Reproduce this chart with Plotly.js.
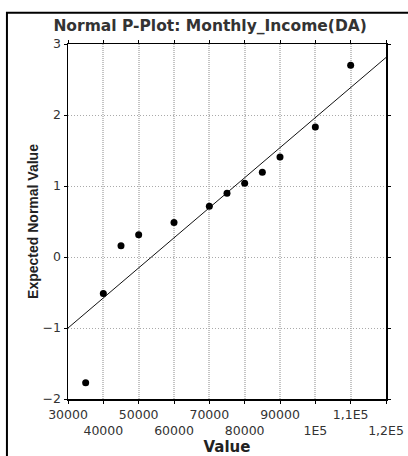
<!DOCTYPE html>
<html>
<head>
<meta charset="utf-8">
<script src="https://cdn.plot.ly/plotly-3.0.1.min.js"></script>
<style>
html,body{margin:0;padding:0;background:#fff;}
#chart{width:408px;height:456px;}
</style>
</head>
<body>
<div id="chart"></div>
<script>
// Observed values (Monthly_Income) and expected normal values
const incomeValues = [35000, 40000, 45000, 50000, 60000, 70000, 75000, 80000, 85000, 90000, 100000, 110000];
const expectedNormal = [-1.77, -0.515, 0.16, 0.315, 0.485, 0.714, 0.897, 1.038, 1.193, 1.408, 1.83, 2.70];
// Reference line endpoints
const lineX = [30000, 120000];
const lineY = [-1, 2.81];
// Axis ticks
const xTickVals = [30000, 40000, 50000, 60000, 70000, 80000, 90000, 100000, 110000, 120000];
const xTickText = ['30000', '<br>40000', '50000', '<br>60000', '70000', '<br>80000', '90000', '<br>1E5', '1,1E5', '<br>1,2E5'];
const yTickVals = [-2, -1, 0, 1, 2, 3];

const FONT = 'DejaVu Sans, Verdana, sans-serif';

const traces = [
  {
    x: lineX, y: lineY, mode: 'lines', type: 'scatter',
    line: {color: '#111', width: 1}, hoverinfo: 'skip', showlegend: false
  },
  {
    x: incomeValues, y: expectedNormal, mode: 'markers', type: 'scatter',
    marker: {color: '#000', size: 7}, showlegend: false
  }
];

const layout = {
  width: 408, height: 456,
  paper_bgcolor: '#fff', plot_bgcolor: '#fff',
  margin: {l: 68, r: 22, t: 44, b: 57},
  title: {
    text: '<b>Normal P-Plot: Monthly_Income(DA)</b>',
    font: {family: FONT, size: 15.5, color: '#333'},
    x: 0.515, xanchor: 'center', y: 0.944, yanchor: 'middle'
  },
  xaxis: {
    range: [30000, 120000],
    tickvals: xTickVals, ticktext: xTickText,
    tickfont: {family: FONT, size: 12.5, color: '#333'},
    showgrid: true, gridcolor: '#c4c4c4', griddash: '1px,1px', gridwidth: 2,
    showline: true, linecolor: '#000', linewidth: 1.5, mirror: 'ticks',
    ticks: 'outside', ticklen: 3, tickcolor: '#000',
    zeroline: false, tickangle: 0,
    title: {text: '<b>Value</b>', font: {family: FONT, size: 15, color: '#222'}, standoff: 4}
  },
  yaxis: {
    range: [-2, 3],
    tickvals: yTickVals,
    tickfont: {family: FONT, size: 12.5, color: '#333'},
    showgrid: true, gridcolor: '#aaaaaa', griddash: '1px,2px', gridwidth: 1,
    showline: true, linecolor: '#000', linewidth: 1.5, mirror: 'ticks',
    ticks: 'outside', ticklen: 3, tickcolor: '#000',
    zeroline: false,
    title: {text: '<b>Expected Normal Value</b>', font: {family: 'Liberation Sans, Arial, sans-serif', size: 14, color: '#222'}, standoff: 0}
  },
  shapes: [{
    type: 'rect', xref: 'paper', yref: 'paper',
    x0: -0.192, x1: 1.2, y0: -0.25, y1: 1.088,
    line: {color: '#000', width: 2}, fillcolor: 'rgba(0,0,0,0)', layer: 'below'
  }]
};

Plotly.newPlot('chart', traces, layout, {displayModeBar: false, staticPlot: true});
</script>
</body>
</html>
